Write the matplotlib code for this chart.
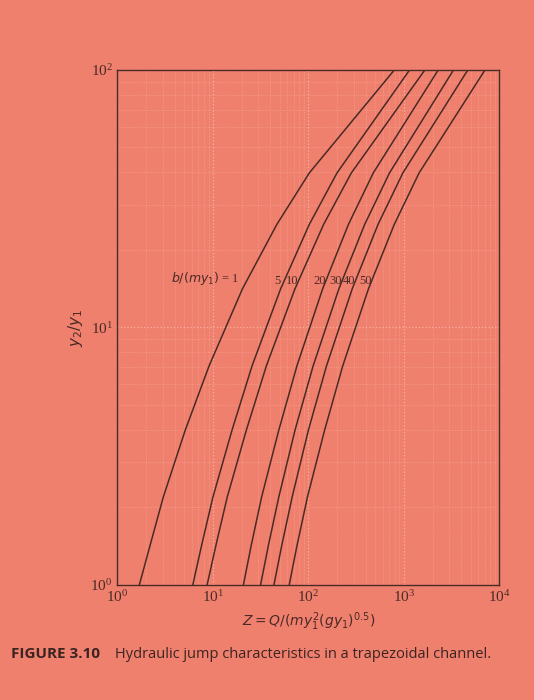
import matplotlib
matplotlib.use("Agg")
import matplotlib.pyplot as plt
import numpy as np

# b/(m y1) parameter and curve points, stored as log10 values
params = ["1", "5", "10", "20", "30", "40", "50"]
log_y = [0.0, 0.15, 0.34, 0.60, 0.85, 1.15, 1.40, 1.60, 2.00]
log_z_1 = [0.23, 0.34, 0.48, 0.71, 0.96, 1.31, 1.67, 2.01, 2.90]
log_z_5 = [0.79, 0.88, 1.00, 1.20, 1.41, 1.71, 2.01, 2.30, 3.06]
log_z_10 = [0.94, 1.03, 1.15, 1.35, 1.56, 1.86, 2.16, 2.45, 3.22]
log_z_20 = [1.32, 1.40, 1.51, 1.69, 1.88, 2.15, 2.42, 2.68, 3.36]
log_z_30 = [1.50, 1.58, 1.69, 1.86, 2.05, 2.32, 2.59, 2.85, 3.52]
log_z_40 = [1.64, 1.72, 1.83, 2.00, 2.19, 2.46, 2.73, 2.99, 3.67]
log_z_50 = [1.80, 1.88, 1.99, 2.17, 2.36, 2.63, 2.90, 3.16, 3.85]
curves = [log_z_1, log_z_5, log_z_10, log_z_20, log_z_30, log_z_40, log_z_50]
label_z = [51, 72, 141, 209, 288, 427]  # where the parameter labels sit

bg = "#f0806e"
ink = "#4a2a25"
serif = ["Liberation Serif", "DejaVu Serif"]

fig = plt.figure(figsize=(5.34, 7.0), dpi=100, facecolor=bg)
ax = fig.add_axes([0.22, 0.165, 0.715, 0.735], facecolor=bg)

y_vals = 10 ** np.array(log_y)
for lz in curves:
    ax.plot(10 ** np.array(lz), y_vals, color=ink, linewidth=1.1)

ax.set_xscale("log")
ax.set_yscale("log")
ax.set_xlim(1, 1e4)
ax.set_ylim(1, 100)
ax.grid(True, which="major", color="#f8b0a0", linestyle=":", linewidth=0.9)
ax.grid(True, which="minor", color="#f6a090", linestyle=":", linewidth=0.6)
ax.tick_params(which="both", length=0, colors=ink, labelsize=11)
for lab in ax.get_xticklabels() + ax.get_yticklabels():
    lab.set_family(serif)
for s in ax.spines.values():
    s.set_color(ink)
    s.set_linewidth(1.0)

ax.text(19, 14.3, r"$b/(my_1)$ = 1", ha="right", va="bottom", fontsize=9,
        color=ink, family=serif)
for p, zl in zip(params[1:], label_z):
    ax.text(zl * 0.93, 14.3, p, ha="center", va="bottom", fontsize=9, color=ink,
            family=serif)

ax.set_xlabel(r"$Z = Q/(my_1^2(gy_1)^{0.5})$", color=ink, fontsize=10)
ax.set_ylabel(r"$y_2/y_1$", color=ink, fontsize=11)

fig.text(0.02, 0.06, "FIGURE 3.10", fontsize=11, fontweight="bold", color="#3a2422",
         family=["Open Sans", "DejaVu Sans"])
fig.text(0.215, 0.06, "Hydraulic jump characteristics in a trapezoidal channel.",
         fontsize=10.5, color="#3a2422", family=["Open Sans", "DejaVu Sans"])

fig.savefig("out.png", dpi=100, facecolor=bg)
